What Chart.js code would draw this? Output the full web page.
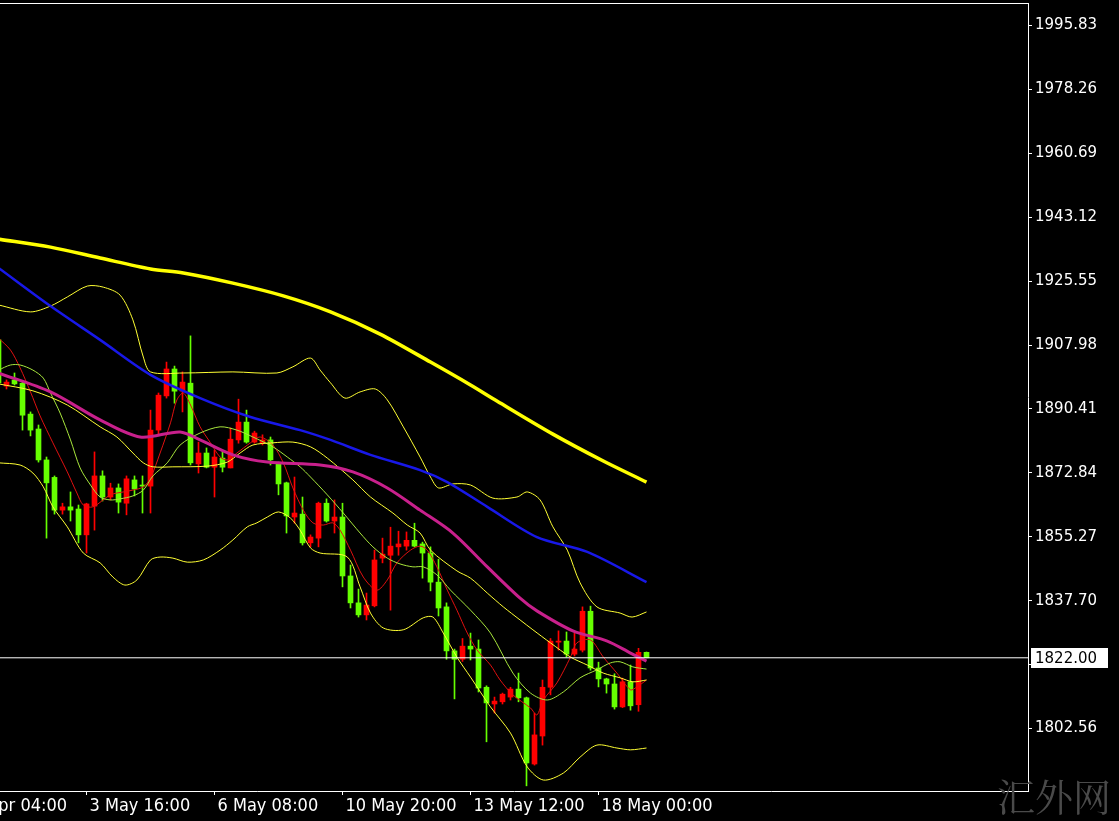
<!DOCTYPE html>
<html>
<head>
<meta charset="utf-8">
<script src="https://cdn.jsdelivr.net/npm/chart.js@4.4.1/dist/chart.umd.min.js"></script>
<style>
  html, body { margin:0; padding:0; background:#000; }
  #wrap { width:1119px; height:821px; }
</style>
</head>
<body>
<div id="wrap"><canvas id="c" width="1119" height="821"></canvas></div>
<script>
// 4H candles, index 0 = leftmost (half hidden) bar
const opens = [1909.4,1896.7,1898.4,1897.5,1889.0,1884.9,1876.4,1871.6,1862.6,1863.5,
  1862.9,1855.8,1863.7,1872.0,1866.2,1868.7,1864.5,1870.9,1869.5,1869.2,
  1884.6,1894.0,1901.4,1895.3,1897.5,1875.3,1878.3,1874.4,1876.9,1874.2,
  1881.9,1886.8,1881.3,1881.0,1881.9,1875.6,1870.1,1860.7,1861.5,1853.6,
  1854.9,1864.5,1859.6,1860.7,1844.5,1837.1,1833.8,1836.3,1849.4,1850.2,
  1852.5,1852.7,1854.3,1853.3,1850.8,1842.8,1836.0,1823.9,1821.6,1825.2,
  1824.4,1813.9,1809.3,1809.9,1811.2,1813.4,1811.0,1792.8,1800.5,1813.9,
  1826.3,1826.6,1823.0,1824.1,1834.8,1819.2,1816.2,1814.8,1808.5,1815.4,
  1809.1,1823.5];
const highs = [1910.5,1898.4,1900.3,1898.1,1889.6,1886.0,1877.2,1872.0,1864.5,1867.6,
  1864.0,1864.5,1878.6,1873.4,1870.0,1869.8,1872.0,1872.0,1872.0,1890.1,
  1894.8,1903.3,1902.2,1900.6,1910.5,1881.3,1879.7,1879.1,1878.6,1885.2,
  1893.1,1890.1,1884.3,1883.3,1882.7,1875.8,1870.3,1871.7,1866.2,1855.8,
  1864.8,1865.7,1865.4,1864.5,1847.5,1840.9,1839.8,1851.6,1854.9,1857.9,
  1856.8,1856.6,1859.0,1853.8,1852.5,1849.1,1837.1,1824.4,1827.3,1828.8,
  1826.9,1814.3,1811.2,1812.3,1813.9,1817.8,1811.2,1806.8,1815.9,1827.3,
  1829.4,1829.1,1828.8,1836.0,1836.2,1820.8,1816.4,1817.6,1816.4,1820.0,
  1824.6,1823.6];
const lows = [1896.5,1895.9,1897.0,1884.6,1883.0,1875.8,1854.9,1861.5,1861.5,1859.6,
  1853.6,1850.8,1857.1,1865.1,1865.4,1861.8,1861.3,1866.5,1861.8,1861.8,
  1883.3,1893.4,1892.0,1889.6,1875.0,1872.8,1874.2,1866.2,1873.1,1874.2,
  1881.0,1881.0,1881.0,1880.5,1875.0,1866.8,1856.3,1859.0,1853.0,1852.5,
  1852.5,1859.3,1856.3,1841.5,1835.7,1833.2,1832.4,1836.0,1848.1,1835.1,
  1850.2,1851.6,1852.5,1843.9,1840.4,1833.5,1821.6,1810.7,1821.0,1821.4,
  1812.6,1798.9,1806.8,1809.3,1810.4,1809.9,1786.8,1792.5,1798.0,1811.8,
  1824.1,1822.2,1822.5,1823.6,1818.6,1814.0,1812.3,1807.9,1808.3,1807.6,
  1807.3,1822.0];
const closes = [1897.6,1897.8,1897.3,1888.7,1884.6,1876.4,1870.1,1862.6,1863.5,1862.6,
  1855.8,1864.3,1872.0,1866.2,1868.7,1864.8,1871.2,1868.4,1869.2,1884.6,
  1894.2,1901.4,1895.3,1897.8,1875.6,1878.3,1874.4,1877.2,1874.4,1882.1,
  1886.8,1881.3,1883.8,1881.9,1876.4,1869.8,1861.0,1861.8,1853.6,1855.2,
  1864.5,1859.6,1860.7,1844.5,1837.1,1833.8,1836.5,1848.9,1850.5,1852.7,
  1853.3,1854.3,1852.7,1850.8,1842.8,1835.7,1823.9,1821.6,1825.2,1824.4,
  1813.7,1809.6,1810.1,1812.0,1813.4,1811.0,1793.1,1800.8,1813.9,1826.6,
  1826.6,1823.0,1824.4,1834.8,1819.2,1816.2,1814.8,1808.5,1815.4,1808.8,
  1823.5,1822.0];

const bidPrice = 1822.00;

// price axis / time axis
const yTicks = [1995.83,1978.26,1960.69,1943.12,1925.55,1907.98,1890.41,1872.84,1855.27,1837.70,1820.13,1802.56];
const xTickIdx = [-5, 11, 27, 43, 59, 75];
const xTickLabels = ['29 Apr 04:00','3 May 16:00','6 May 08:00','10 May 20:00','13 May 12:00','18 May 00:00'];

// indicator lines, [bar index, price]
const maSlow = [[0,1937.1],[6.5,1934.9],[12.7,1931.9],[19.0,1928.9],[23.1,1927.8],[29.3,1925.0],[35.6,1921.5],[41.5,1917.1],[47.7,1911.0],[54.0,1903.3],[59.0,1897.0],[62.3,1892.6],[69.3,1883.5],[75.6,1876.1],[81,1870.3]];
const maBlue = [[0,1929.2],[6.5,1918.7],[12.7,1909.4],[19.0,1899.8],[25.2,1893.4],[31.5,1888.2],[37.7,1884.6],[41.5,1881.9],[46.5,1877.8],[52.7,1873.6],[56.1,1870.3],[61.1,1863.5],[67.3,1855.2],[73.6,1851.1],[81,1842.8]];
const maPink = [[0,1900.3],[6.5,1895.1],[12.7,1887.4],[17.7,1882.7],[22.7,1884.1],[25.2,1881.9],[29.3,1877.8],[33.6,1875.8],[40.2,1875.0],[44.3,1873.1],[48.6,1868.7],[52.7,1862.6],[56.8,1856.3],[61.1,1847.0],[65.2,1838.4],[67.3,1834.9],[71.8,1829.4],[76.1,1826.6],[79.0,1823.3],[81,1821.1]];
const bbUpper = [[0,1919.0],[4.0,1917.1],[6.5,1918.7],[8.6,1921.2],[11.1,1924.2],[13.1,1923.9],[15.2,1921.7],[16.8,1914.9],[18.1,1904.7],[19.0,1900.6],[23.1,1900.3],[29.3,1900.6],[34.8,1900.3],[36.8,1902.0],[39.0,1904.4],[40.2,1901.1],[41.5,1897.6],[43.3,1893.4],[45.2,1895.1],[47.1,1895.9],[48.6,1892.9],[50.6,1885.5],[52.7,1877.2],[54.0,1871.7],[55.0,1868.7],[56.8,1869.8],[59.0,1869.5],[61.8,1865.9],[64.8,1866.2],[66.1,1867.6],[67.7,1865.4],[69.3,1858.0],[71.1,1851.6],[72.7,1842.6],[74.8,1836.0],[77.7,1834.3],[79.2,1833.2],[81,1834.6]];
const bbMid = [[0,1897.3],[4.3,1895.4],[8.6,1891.5],[12.7,1885.5],[14.8,1882.7],[16.8,1878.3],[18.1,1875.6],[19.3,1874.5],[21.8,1874.5],[26.1,1874.7],[28.6,1875.8],[30.2,1878.3],[31.8,1880.5],[34.3,1881.1],[36.8,1881.3],[39.0,1880.0],[41.1,1876.9],[44.3,1870.9],[46.5,1866.2],[49.3,1861.8],[51.1,1858.5],[52.7,1856.3],[54.0,1851.6],[57.3,1845.9],[59.0,1843.9],[61.1,1839.8],[63.1,1836.0],[65.2,1832.4],[66.8,1829.7],[69.0,1826.1],[71.5,1822.2],[73.6,1820.0],[75.6,1817.8],[77.7,1816.5],[79.3,1815.4],[81,1815.9]];
const bbLower = [[0,1875.6],[2.7,1875.0],[4.3,1872.8],[5.6,1869.0],[6.8,1863.5],[8.6,1858.0],[10.6,1850.8],[12.7,1848.1],[14.3,1844.2],[15.8,1842.0],[17.3,1843.4],[19.0,1848.9],[20.2,1849.7],[21.8,1849.4],[23.6,1848.3],[25.6,1848.9],[27.7,1851.6],[29.3,1854.4],[31.1,1858.0],[32.3,1859.1],[33.6,1860.7],[35.0,1862.1],[36.5,1860.4],[37.7,1857.1],[39.0,1852.2],[40.2,1850.8],[43.6,1849.7],[45.2,1841.5],[46.5,1834.3],[48.1,1830.2],[50.6,1829.7],[53.1,1833.0],[54.3,1833.2],[55.6,1828.8],[57.3,1822.2],[59.0,1816.7],[61.5,1808.5],[64.0,1801.3],[66.1,1792.0],[68.1,1788.4],[70.6,1790.3],[72.7,1794.7],[74.8,1798.0],[77.3,1797.2],[79.0,1796.7],[81,1797.2]];
const maGreen = [[0,1901.1],[1.5,1902.5],[2.7,1902.5],[4.3,1901.1],[5.6,1898.9],[6.5,1894.8],[7.7,1889.3],[9.0,1881.9],[10.2,1874.2],[11.5,1869.5],[12.7,1866.2],[14.0,1865.4],[15.2,1865.7],[16.8,1866.5],[18.1,1868.1],[19.3,1872.0],[21.1,1875.6],[22.7,1880.5],[25.2,1883.8],[27.7,1885.5],[29.8,1884.6],[31.8,1882.7],[34.3,1880.0],[36.1,1877.2],[37.7,1874.5],[39.0,1871.7],[41.1,1866.8],[43.1,1861.8],[45.2,1856.3],[46.8,1852.5],[48.6,1849.4],[50.2,1847.8],[51.8,1847.0],[53.1,1847.0],[54.8,1844.8],[56.5,1840.6],[59.0,1835.1],[61.5,1828.8],[64.3,1817.8],[66.5,1812.3],[68.6,1810.4],[70.6,1812.6],[72.7,1816.5],[74.8,1818.7],[76.5,1820.6],[77.7,1820.9],[79.3,1819.5],[81,1818.9]];
const maRed = [[0,1909.9],[1.5,1906.6],[2.7,1901.7],[4.0,1895.1],[5.2,1888.5],[6.8,1881.1],[8.6,1873.1],[9.8,1867.3],[10.6,1864.0],[11.8,1863.5],[14.0,1866.8],[15.6,1867.6],[16.8,1868.1],[18.1,1869.0],[19.0,1871.4],[20.2,1878.3],[21.5,1886.6],[22.3,1892.9],[23.1,1894.8],[24.0,1891.5],[25.2,1885.5],[26.5,1881.1],[27.7,1877.2],[28.6,1876.4],[29.8,1878.3],[31.5,1881.1],[32.7,1882.7],[34.3,1880.5],[35.6,1875.6],[36.8,1868.7],[38.1,1862.6],[39.3,1859.1],[40.6,1858.5],[41.8,1859.1],[42.7,1857.1],[44.0,1851.6],[45.6,1844.2],[47.3,1840.6],[48.6,1843.4],[49.8,1848.1],[51.5,1851.6],[52.7,1852.7],[53.6,1851.6],[54.8,1847.0],[56.1,1840.6],[57.3,1835.1],[58.6,1828.8],[59.8,1824.2],[61.5,1820.0],[62.7,1815.9],[64.3,1811.8],[66.5,1808.2],[67.3,1806.3],[68.1,1810.4],[69.8,1815.1],[71.5,1822.2],[72.3,1826.1],[74.0,1826.9],[75.6,1822.2],[77.3,1817.8],[79.0,1813.2],[79.8,1814.0],[81,1815.9]];

const upCol = '#ff0000', downCol = '#66ff00';
// visible window: 8px per bar, chart shifted to the left
const xMin = 0.1875, xMax = 128.6875;
const yMin = 1785.38, yMax = 2002.02;

const toXY = arr => arr.map(p => ({x: p[0], y: p[1]}));
const candleColor = ctx => closes[ctx.dataIndex] > opens[ctx.dataIndex] ? upCol : downCol;

function line(data, color, width, order){
    return {type:'line', data: toXY(data), borderColor: color, borderWidth: width,
        pointRadius: 0, tension: 0.3, fill: false, order: order};
}

const frame = {
    id: 'frame',
    afterDraw(chart){
        const {ctx, chartArea: a, scales: {y}} = chart;
        ctx.save();
        // top edge of the chart window
        ctx.strokeStyle = '#fff'; ctx.lineWidth = 1;
        ctx.beginPath(); ctx.moveTo(a.left, a.top + 0.5); ctx.lineTo(a.right, a.top + 0.5); ctx.stroke();
        // bid price label
        const py = Math.round(y.getPixelForValue(bidPrice));
        ctx.fillStyle = '#fff';
        ctx.fillRect(a.right + 3, py - 10, 77, 20);
        ctx.fillStyle = '#000';
        ctx.font = '15px "DejaVu Sans"';
        ctx.textBaseline = 'middle';
        ctx.fillText(bidPrice.toFixed(2), a.right + 7, py + 1);
        // watermark
        ctx.font = '38px "Noto Serif CJK SC", "Noto Sans CJK SC", serif';
        ctx.fillStyle = '#4a4a4a';
        ctx.textAlign = 'center';
        ctx.fillText('汇外网', 1054, 797);
        ctx.restore();
    }
};

new Chart(document.getElementById('c'), {
    type: 'bar',
    data: {
        datasets: [
            {type:'line', data:[{x:xMin, y:bidPrice},{x:xMax, y:bidPrice}], borderColor:'#ffffff', borderWidth:1, pointRadius:0, order:0},
            line(maSlow, '#ffff00', 3.5, 1),
            line(maBlue, '#1818e8', 2.5, 2),
            line(maPink, '#c8208c', 3, 3),
            line(bbUpper, '#ffff33', 1, 4),
            line(bbMid, '#ffff33', 1, 4),
            line(bbLower, '#ffff33', 1, 4),
            line(maGreen, '#a8e63c', 1, 5),
            line(maRed, '#e01010', 1, 6),
            {data: opens.map((o, i) => ({x: i, y: [o, closes[i]]})), backgroundColor: candleColor,
                barThickness: 5, grouped: false, borderWidth: 0, order: 10},
            {data: lows.map((l, i) => ({x: i, y: [l, highs[i]]})), backgroundColor: candleColor,
                barThickness: 1, grouped: false, borderWidth: 0, order: 11}
        ]
    },
    options: {
        responsive: false,
        animation: false,
        devicePixelRatio: 1,
        layout: {padding: {top: 3, left: 0, right: 0, bottom: 0}},
        plugins: {legend: {display: false}, tooltip: {enabled: false}},
        scales: {
            x: {
                type: 'linear', min: xMin, max: xMax, position: 'bottom', offset: false,
                grid: {drawOnChartArea: false, drawTicks: true, tickLength: 4, color: '#fff', offset: false},
                border: {display: true, color: '#fff'},
                afterBuildTicks: s => { s.ticks = xTickIdx.map(v => ({value: v})); },
                afterFit: s => { s.height = 30; s.paddingLeft = 0; s.paddingRight = 0; },
                ticks: {
                    autoSkip: false, maxRotation: 0, align: 'start', labelOffset: 3, padding: 1,
                    color: '#fff', font: {family: '"DejaVu Sans Condensed", "Liberation Sans Narrow", "DejaVu Sans"', size: 18},
                    callback: (v, i) => xTickLabels[i]
                }
            },
            y: {
                position: 'right', min: yMin, max: yMax,
                grid: {drawOnChartArea: false, drawTicks: true, tickLength: 4, color: '#fff'},
                border: {display: true, color: '#fff'},
                afterBuildTicks: s => { s.ticks = yTicks.map(v => ({value: v})); },
                afterFit: s => { s.width = 91; s.paddingTop = 0; s.paddingBottom = 0; },
                ticks: {
                    autoSkip: false, padding: 3, color: '#fff',
                    font: {family: '"DejaVu Sans"', size: 15},
                    callback: v => v.toFixed(2)
                }
            }
        }
    },
    plugins: [frame]
});
</script>
</body>
</html>
